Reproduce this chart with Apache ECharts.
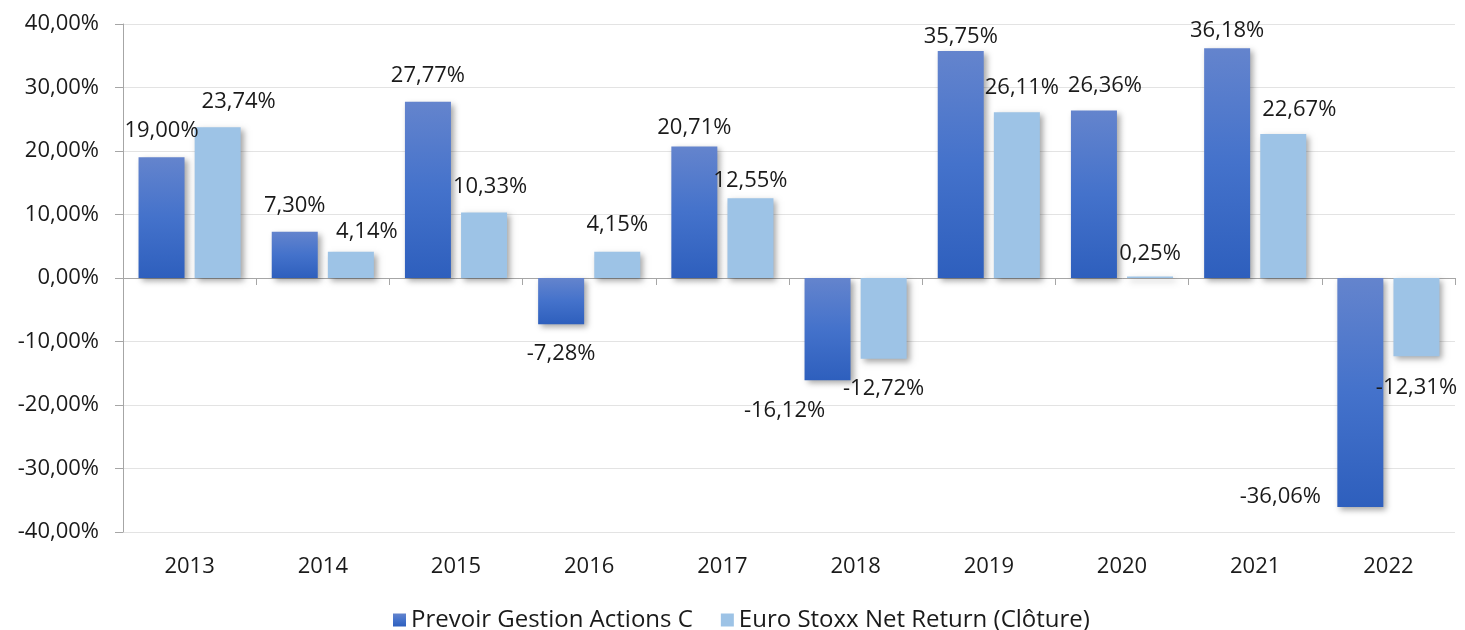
<!DOCTYPE html>
<html>
<head>
<meta charset="utf-8">
<script src="https://cdn.jsdelivr.net/npm/echarts@6/dist/echarts.min.js"></script>
<style>
  html, body { margin: 0; padding: 0; background: #fff; }
  #chart { width: 1465px; height: 630px; }
</style>
</head>
<body>
<div id="chart"></div>
<script>
// données
var years = ['2013', '2014', '2015', '2016', '2017', '2018', '2019', '2020', '2021', '2022'];
var fundName = 'Prevoir Gestion Actions C';
var indexName = 'Euro Stoxx Net Return (Clôture)';
var fundValues = [19.00, 7.30, 27.77, -7.28, 20.71, -16.12, 35.75, 26.36, 36.18, -36.06];
var indexValues = [23.74, 4.14, 10.33, 4.15, 12.55, -12.72, 26.11, 0.25, 22.67, -12.31];

// décalage des étiquettes (comme Excel les a placées)
var fundLabelShift = [[0, -3], [0, -2], [0, -2], [0, 0], [0, 5], [-43, 0], [0, 10], [11, -1], [0, 6], [-80, -40]];
var indexLabelShift = [[21, -2], [16, 4], [6, -2], [0, -3], [0, 6], [0, 0], [5, 0], [0, 1], [16, 0], [0, 2]];

var FONT = '"Open Sans", "Noto Sans", sans-serif';

function pct(v) {
    return v.toFixed(2).replace('.', ',') + '%';
}

function buildData(values, shifts) {
    return values.map(function (v, i) {
        return {
            value: v,
            label: {
                position: v >= 0 ? 'top' : 'bottom',
                distance: v >= 0 ? 13 : 19,
                offset: shifts[i]
            }
        };
    });
}

var chart = echarts.init(document.getElementById('chart'));

var fundColor = new echarts.graphic.LinearGradient(0, 0, 0, 1, [
    {offset: 0, color: '#6484cd'},
    {offset: 0.5, color: '#4472cb'},
    {offset: 1, color: '#2e5fbd'}
]);

var labelStyle = {
    show: true,
    color: '#1a1a1a',
    fontFamily: FONT,
    fontSize: 22,
    formatter: function (p) { return pct(p.value); }
};

var option = {
    backgroundColor: '#ffffff',
    animation: false,
    grid: {
        left: 123,
        right: 10,
        top: 24,
        bottom: 98
    },
    legend: {
        left: 388,
        top: 603,
        icon: 'rect',
        itemWidth: 13,
        itemHeight: 13,
        itemGap: 28,
        textStyle: {
            color: '#1a1a1a',
            fontFamily: FONT,
            fontSize: 24
        },
        data: [fundName, indexName]
    },
    xAxis: [
        {
            type: 'category',
            position: 'bottom',
            data: years,
            axisLine: {onZero: true, lineStyle: {color: '#a6a6a6', width: 1}},
            axisTick: {show: true, length: 7, lineStyle: {color: '#a6a6a6'}},
            axisLabel: {show: false},
            splitLine: {show: false}
        },
        {
            type: 'category',
            position: 'bottom',
            data: years,
            axisLine: {show: false, onZero: false},
            axisTick: {show: false},
            axisLabel: {
                show: true,
                margin: 24,
                color: '#1a1a1a',
                fontFamily: FONT,
                fontSize: 22
            },
            splitLine: {show: false}
        }
    ],
    yAxis: {
        type: 'value',
        min: -40,
        max: 40,
        interval: 10,
        axisLine: {show: true, lineStyle: {color: '#a6a6a6'}},
        axisTick: {show: true, length: 8, lineStyle: {color: '#a6a6a6'}},
        axisLabel: {
            margin: 24,
            color: '#1a1a1a',
            fontFamily: FONT,
            fontSize: 22,
            formatter: function (v) { return pct(v); }
        },
        splitLine: {lineStyle: {color: '#e3e3e3', width: 1}}
    },
    series: [
        {
            name: fundName,
            type: 'bar',
            xAxisIndex: 0,
            barWidth: 46,
            barGap: '22%',
            data: buildData(fundValues, fundLabelShift),
            itemStyle: {
                color: fundColor,
                shadowBlur: 6,
                shadowOffsetX: 3,
                shadowOffsetY: 3,
                shadowColor: 'rgba(0, 0, 0, 0.35)'
            },
            label: labelStyle,
            z: 2
        },
        {
            name: indexName,
            type: 'bar',
            xAxisIndex: 0,
            barWidth: 46,
            data: buildData(indexValues, indexLabelShift),
            itemStyle: {
                color: '#9dc3e6',
                shadowBlur: 6,
                shadowOffsetX: 3,
                shadowOffsetY: 3,
                shadowColor: 'rgba(0, 0, 0, 0.35)'
            },
            label: labelStyle,
            z: 2
        }
    ]
};

chart.setOption(option);
</script>
</body>
</html>
